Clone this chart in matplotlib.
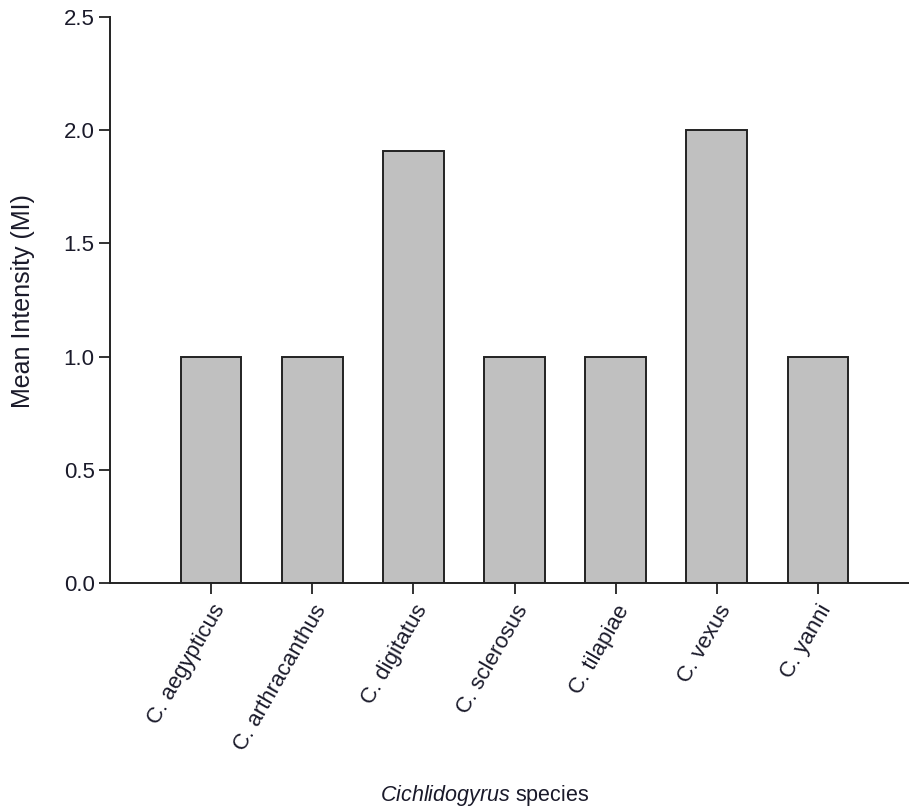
import matplotlib
matplotlib.use("Agg")
from matplotlib import pyplot as plt
import numpy as np

species = ["C. aegypticus", "C. arthracanthus", "C. digitatus", "C. sclerosus",
           "C. tilapiae", "C. vexus", "C. yanni"]
mean_intensity = [1.0, 1.0, 1.91, 1.0, 1.0, 2.0, 1.0]
y_ticks = [0.0, 0.5, 1.0, 1.5, 2.0, 2.5]

plt.rcParams["font.family"] = ["Liberation Sans", "DejaVu Sans"]
plt.rcParams["mathtext.fontset"] = "custom"
plt.rcParams["mathtext.rm"] = "Liberation Sans"
plt.rcParams["mathtext.it"] = "Liberation Sans:italic"

fig = plt.figure(figsize=(9.09, 8.1), dpi=100)
ax = fig.add_axes([110 / 909, 1 - 583 / 810, (909 - 110) / 909, (583 - 17) / 810])

x = np.arange(len(species))
ax.bar(x, mean_intensity, width=0.6, color="#c0c0c0", edgecolor="#222222",
       linewidth=1.4, zorder=2)

ax.set_xlim(-1.0, 6.9)
ax.set_ylim(0, 2.5)
ax.set_yticks(y_ticks)
ax.set_yticklabels([f"{v:.1f}" for v in y_ticks], fontsize=16)
ax.set_xticks(x)
ax.set_xticklabels(species, rotation=60, ha="right", va="top",
                   rotation_mode="anchor", fontsize=16)

for s in ["top", "right"]:
    ax.spines[s].set_visible(False)
for s in ["left", "bottom"]:
    ax.spines[s].set_linewidth(1.4)
    ax.spines[s].set_color("#222222")
ax.tick_params(direction="out", length=8, width=1.3, color="#222222",
               labelcolor="#1a1a2a", pad=3)
ax.tick_params(axis="x", pad=5)

# y label is slightly letter-spaced in the original, so go a bit larger
fig.text(23 / 909, 1 - 301 / 810, "Mean Intensity (MI)", fontsize=18,
         rotation=90, ha="center", va="center", color="#1a1a2a")
fig.text(485 / 909, 1 - 795 / 810, r"$\it{Cichlidogyrus}$ species",
         fontsize=15.5, ha="center", va="center", color="#1a1a2a")

plt.savefig("out.png", dpi=100)
